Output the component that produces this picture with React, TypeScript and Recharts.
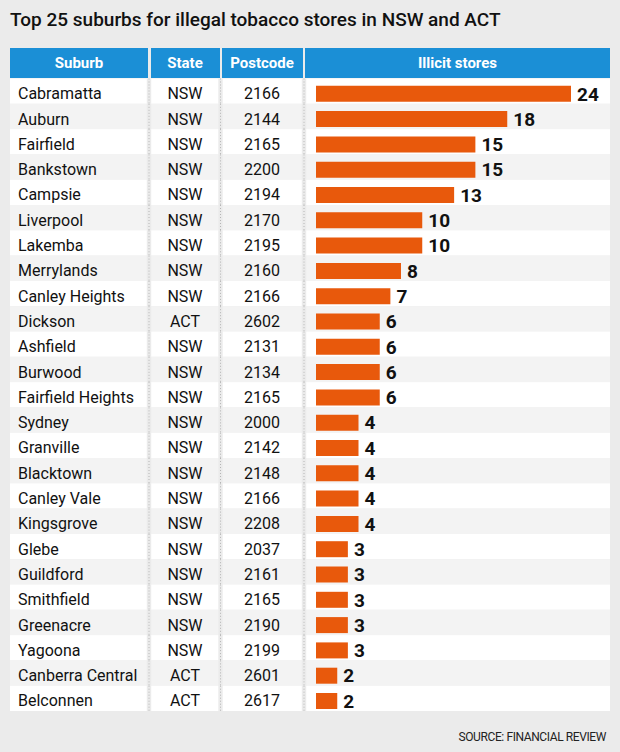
import { BarChart, Bar, XAxis, YAxis, ReferenceArea, LabelList } from "recharts";

const suburbs = [
  "Cabramatta", "Auburn", "Fairfield", "Bankstown", "Campsie", "Liverpool", "Lakemba",
  "Merrylands", "Canley Heights", "Dickson", "Ashfield", "Burwood", "Fairfield Heights",
  "Sydney", "Granville", "Blacktown", "Canley Vale", "Kingsgrove", "Glebe", "Guildford",
  "Smithfield", "Greenacre", "Yagoona", "Canberra Central", "Belconnen",
];
const states = [
  "NSW", "NSW", "NSW", "NSW", "NSW", "NSW", "NSW", "NSW", "NSW", "ACT", "NSW", "NSW", "NSW",
  "NSW", "NSW", "NSW", "NSW", "NSW", "NSW", "NSW", "NSW", "NSW", "NSW", "ACT", "ACT",
];
const postcodes = [
  "2166", "2144", "2165", "2200", "2194", "2170", "2195", "2160", "2166", "2602", "2131",
  "2134", "2165", "2000", "2142", "2148", "2166", "2208", "2037", "2161", "2165", "2190",
  "2199", "2601", "2617",
];
const stores = [24, 18, 15, 15, 13, 10, 10, 8, 7, 6, 6, 6, 6, 4, 4, 4, 4, 4, 3, 3, 3, 3, 3, 2, 2];

const rows = suburbs.map((suburb, i) => ({
  suburb,
  state: states[i],
  postcode: postcodes[i],
  stores: stores[i],
}));

const BG = "#ebebeb";
const BLUE = "#1b8fd6";
const ORANGE = "#e8590c";
const FONT = "Roboto, sans-serif";

const TOP = 80.8;
const BOTTOM = 713.3;
const ROW_H = (BOTTOM - TOP) / rows.length;
// row shading sits a little higher than the bars/text
const SHIFT = 2.3;
// column gaps (dotted separators)
const GAPS = [149, 220.5, 304];

// x scale: 0 sits at 316, 24 stores reach 571
const PX = 255 / 24;
const X_MIN = -(316 - 10) / PX;
const X_MAX = (610 - 316) / PX;

function RowTick(props: any) {
  const { y, payload } = props;
  const idx = suburbs.indexOf(payload.value);
  const y0 = y - ROW_H / 2 - SHIFT;
  return (
    <g>
      {GAPS.map((gx) => (
        <g key={gx}>
          <rect x={gx - 2.2} y={y0} width={4.4} height={ROW_H} fill={BG} />
          <line x1={gx} x2={gx} y1={y0} y2={y0 + ROW_H} stroke="#b5b5b5" strokeDasharray="1 2" />
        </g>
      ))}
      <text x={18} y={y} dy="0.36em" fontSize={16} fill="#111" fontFamily={FONT}>
        {payload.value}
      </text>
      <text x={185} y={y} dy="0.36em" fontSize={16} fill="#111" fontFamily={FONT} textAnchor="middle">
        {states[idx]}
      </text>
      <text x={262} y={y} dy="0.36em" fontSize={16} fill="#111" fontFamily={FONT} textAnchor="middle">
        {postcodes[idx]}
      </text>
    </g>
  );
}

function RowShade(props: any) {
  const { x, y, width, height, fill } = props;
  return <rect x={x} y={y - SHIFT} width={width} height={height} fill={fill} />;
}

const headers = [
  { label: "Suburb", left: 10, right: 148 },
  { label: "State", left: 150.5, right: 219.5 },
  { label: "Postcode", left: 221.5, right: 302.5 },
  { label: "Illicit stores", left: 305, right: 610 },
];

export default function App() {
  return (
    <div
      style={{
        position: "absolute",
        left: 0,
        top: 0,
        width: 620,
        height: 752,
        background: BG,
        fontFamily: FONT,
        overflow: "hidden",
      }}
    >
      <div
        style={{
          position: "absolute",
          left: 10,
          top: 8,
          fontSize: 19,
          lineHeight: "23px",
          fontWeight: 500,
          color: "#111",
        }}
      >
        Top 25 suburbs for illegal tobacco stores in NSW and ACT
      </div>

      {headers.map((h) => (
        <div
          key={h.label}
          style={{
            position: "absolute",
            left: h.left,
            top: 48,
            width: h.right - h.left,
            height: 30,
            background: BLUE,
            color: "#fff",
            fontWeight: 700,
            fontSize: 15,
            lineHeight: "31px",
            textAlign: "center",
          }}
        >
          {h.label}
        </div>
      ))}

      <div style={{ position: "absolute", left: 0, top: 0 }}>
        <BarChart
          width={620}
          height={752}
          data={rows}
          layout="vertical"
          margin={{ top: TOP, right: 10, bottom: 752 - BOTTOM, left: 9 }}
          barSize={16}
        >
          {rows.map((r, i) => (
            <ReferenceArea
              key={r.suburb}
              y1={r.suburb}
              y2={r.suburb}
              fill={i % 2 === 0 ? "#ffffff" : "#f3f3f3"}
              fillOpacity={1}
              stroke="none"
              ifOverflow="visible"
              shape={RowShade}
              zIndex={-50}
            />
          ))}
          <XAxis type="number" hide domain={[X_MIN, X_MAX]} allowDataOverflow />
          <Bar dataKey="stores" fill={ORANGE} isAnimationActive={false}>
            <LabelList
              dataKey="stores"
              position="right"
              offset={6}
              fill="#111"
              fontSize={19}
              fontWeight={700}
              fontFamily={FONT}
            />
          </Bar>
          <YAxis
            type="category"
            dataKey="suburb"
            width={1}
            axisLine={false}
            tickLine={false}
            interval={0}
            tick={RowTick}
            zIndex={800}
          />
        </BarChart>
      </div>

      <div
        style={{
          position: "absolute",
          right: 14,
          top: 729,
          fontSize: 12,
          lineHeight: "16px",
          color: "#222",
          letterSpacing: -0.4,
        }}
      >
        SOURCE: FINANCIAL REVIEW
      </div>
    </div>
  );
}
